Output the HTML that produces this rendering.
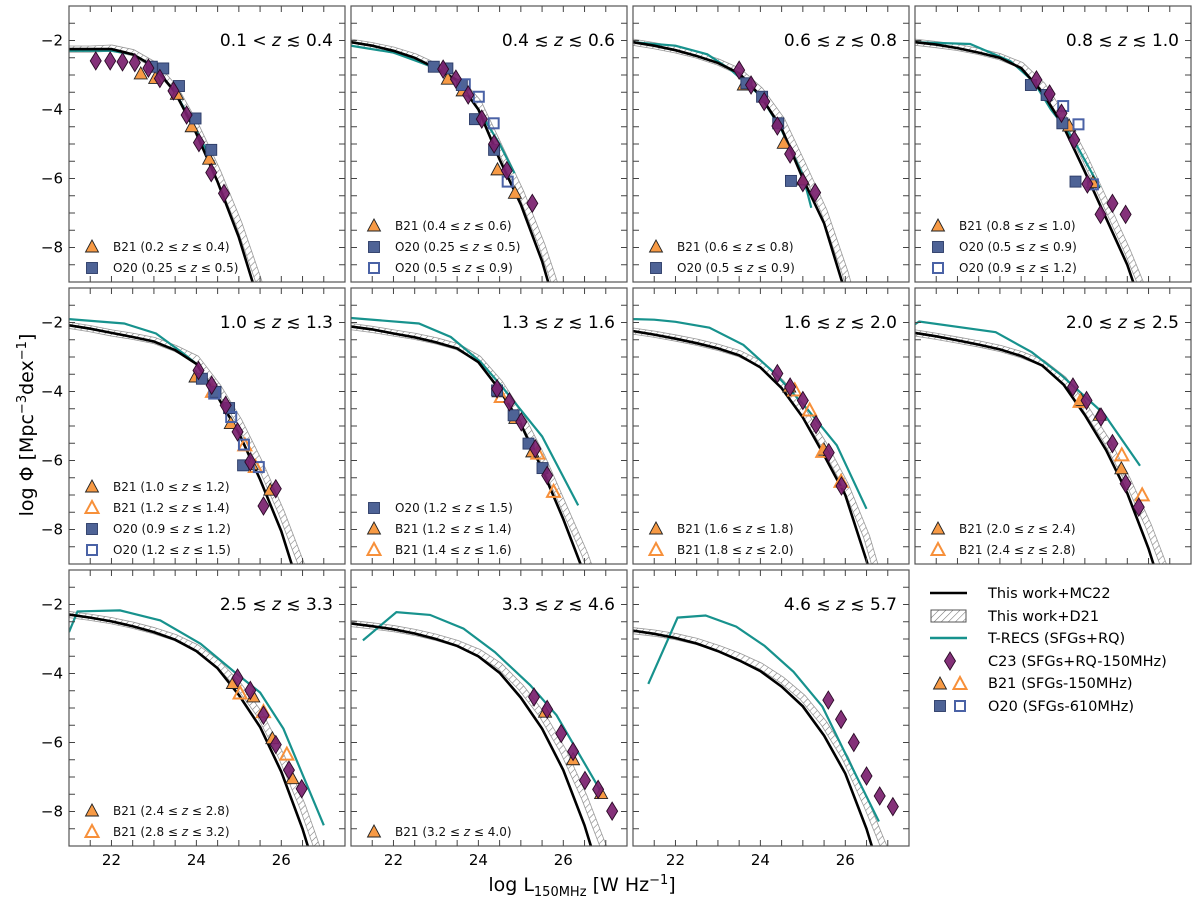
<!DOCTYPE html>
<html><head><meta charset="utf-8">
<style>
html,body{margin:0;padding:0;background:#fff;width:1200px;height:906px;overflow:hidden;}
svg{display:block;font-family:"DejaVu Sans","Liberation Sans",sans-serif;}
</style></head>
<body>
<svg id="chart" width="1200" height="906" viewBox="0 0 1200 906" xmlns="http://www.w3.org/2000/svg">
<defs>
<pattern id="hatch" patternUnits="userSpaceOnUse" width="5" height="5" patternTransform="rotate(45)">
<rect width="5" height="5" fill="#fff"/>
<line x1="0" y1="0" x2="0" y2="5" stroke="#777" stroke-width="1.1"/>
</pattern>
</defs>
<text x="0" y="0" transform="translate(33,425) rotate(-90)" text-anchor="middle" font-size="19" fill="#000">log Φ [Mpc<tspan dy="-7" font-size="13">−3</tspan><tspan dy="7">dex</tspan><tspan dy="-7" font-size="13">−1</tspan><tspan dy="7">]</tspan></text>
<text x="582" y="891" text-anchor="middle" font-size="19" fill="#000">log L<tspan dy="5" font-size="13">150MHz</tspan><tspan dy="-5"> [W Hz</tspan><tspan dy="-7" font-size="13">−1</tspan><tspan dy="7">]</tspan></text>
</svg>
<script>
const xGrid = [21,21.5,22,22.5,23,23.5,24,24.5,25,25.5,26,26.5,27,27.5];
const titles = ["0.1 < z ≲ 0.4","0.4 ≲ z ≲ 0.6","0.6 ≲ z ≲ 0.8","0.8 ≲ z ≲ 1.0","1.0 ≲ z ≲ 1.3","1.3 ≲ z ≲ 1.6","1.6 ≲ z ≲ 2.0","2.0 ≲ z ≲ 2.5","2.5 ≲ z ≲ 3.3","3.3 ≲ z ≲ 4.6","4.6 ≲ z ≲ 5.7"];
const mc22 = [
[-2.25,-2.25,-2.25,-2.4,-2.75,-3.5,-4.7,-6.1,-7.7,-9.7,-12,-14,-16,-18],
[-2.05,-2.15,-2.3,-2.5,-2.8,-3.15,-4.0,-5.45,-6.75,-8.4,-10.5,-13,-15,-17],
[-2.05,-2.15,-2.28,-2.45,-2.65,-2.95,-3.6,-4.55,-6.0,-7.3,-9.3,-11,-13,-15],
[-2.05,-2.12,-2.22,-2.35,-2.5,-2.8,-3.5,-4.5,-5.8,-7.15,-8.5,-10.3,-12,-14],
[-2.08,-2.18,-2.3,-2.42,-2.55,-2.8,-3.2,-4.15,-5.2,-6.55,-8.05,-10,-12,-14],
[-2.12,-2.2,-2.32,-2.43,-2.57,-2.75,-3.15,-3.95,-4.95,-6.25,-7.7,-9.3,-11.2,-13],
[-2.25,-2.35,-2.47,-2.6,-2.75,-2.95,-3.3,-3.9,-4.75,-5.85,-7.0,-8.9,-11,-13],
[-2.3,-2.4,-2.52,-2.64,-2.78,-2.97,-3.25,-3.8,-4.68,-5.7,-6.95,-8.55,-10.5,-12.5],
[-2.29,-2.38,-2.49,-2.63,-2.8,-3.02,-3.35,-3.85,-4.62,-5.55,-6.85,-8.5,-10.5,-12.5],
[-2.55,-2.63,-2.72,-2.84,-3.0,-3.2,-3.5,-3.98,-4.7,-5.6,-6.8,-8.4,-10.4,-12.4],
[-2.76,-2.85,-2.97,-3.13,-3.35,-3.62,-3.93,-4.38,-4.95,-5.8,-6.9,-8.5,-10.5,-12.5]];
const d21 = [
[-2.25,-2.25,-2.22,-2.35,-2.7,-3.4,-4.5,-5.8,-7.3,-9.1,-11,-13,-15,-17],
[-2.05,-2.15,-2.28,-2.47,-2.75,-3.1,-3.8,-5.1,-6.4,-7.95,-9.8,-12,-14,-16],
[-2.05,-2.15,-2.27,-2.42,-2.62,-2.9,-3.45,-4.3,-5.6,-6.95,-8.75,-11,-13,-15],
[-2.05,-2.12,-2.2,-2.32,-2.47,-2.72,-3.3,-4.25,-5.4,-6.75,-8.1,-9.6,-11.5,-13.5],
[-2.08,-2.18,-2.3,-2.4,-2.52,-2.75,-3.05,-3.85,-4.85,-6.1,-7.5,-9.1,-11,-13],
[-2.12,-2.2,-2.3,-2.4,-2.53,-2.7,-3.05,-3.75,-4.7,-5.9,-7.3,-8.7,-10.4,-12.4],
[-2.25,-2.34,-2.45,-2.57,-2.72,-2.9,-3.2,-3.75,-4.55,-5.55,-6.7,-8.2,-10.3,-12.3],
[-2.3,-2.4,-2.51,-2.62,-2.75,-2.93,-3.17,-3.65,-4.45,-5.4,-6.55,-7.9,-9.5,-11.5],
[-2.29,-2.37,-2.47,-2.6,-2.76,-2.96,-3.25,-3.7,-4.35,-5.2,-6.4,-7.85,-9.6,-11.6],
[-2.55,-2.62,-2.7,-2.81,-2.95,-3.13,-3.38,-3.78,-4.4,-5.2,-6.25,-7.6,-9.2,-11.2],
[-2.76,-2.83,-2.93,-3.07,-3.27,-3.5,-3.78,-4.18,-4.7,-5.45,-6.45,-7.8,-9.3,-11.3]];
const trecsX = [
[21,22,22.5,23,23.5,24,24.4],
[21,22,23,23.5,24,24.5,24.85],
[21,22,22.75,23.3,24,24.5,25,25.2],
[21,22.3,23.25,23.8,24.2,24.7,25.35],
[21,22.3,23.05,23.7,24.0],
[21,22.6,23.35,24.05,24.55,25.5,26.35],
[21,21.5,22,22.8,23.6,24.35,25.1,25.8,26.5],
[21,21.1,22.9,23.75,24.45,25.45,26.3],
[21,21.2,22.2,23.15,24.1,24.9,25.5,26.05,27.0],
[21.28,22.07,22.86,23.65,24.39,25.22,25.84,26.89],
[21.36,22.05,22.71,23.43,24.1,24.78,25.46,26.23,26.79]];
const trecsY = [
[-2.3,-2.3,-2.4,-2.75,-3.5,-4.6,-5.6],
[-2.15,-2.35,-2.8,-3.15,-4.0,-5.0,-5.85],
[-2.05,-2.15,-2.4,-2.85,-3.6,-4.6,-5.9,-6.85],
[-2.05,-2.1,-2.6,-3.2,-4.0,-4.8,-6.25],
[-1.9,-2.03,-2.32,-2.9,-3.2],
[-1.87,-2.03,-2.42,-3.14,-3.85,-5.3,-7.3],
[-1.9,-1.92,-1.98,-2.15,-2.65,-3.48,-4.5,-5.56,-7.4],
[-2.05,-1.97,-2.28,-2.86,-3.53,-4.65,-6.15],
[-2.8,-2.2,-2.17,-2.46,-3.14,-3.96,-4.55,-5.6,-8.4],
[-3.04,-2.22,-2.3,-2.7,-3.38,-4.34,-5.21,-7.43],
[-4.3,-2.38,-2.32,-2.64,-3.2,-3.95,-4.96,-6.9,-8.29]];
const c23X = [
[21.63,21.97,22.26,22.55,22.87,23.14,23.46,23.77,24.06,24.35,24.65],
[23.17,23.47,23.76,24.08,24.37,24.67,25.27],
[23.5,23.78,24.09,24.4,24.7,25.0,25.29],
[23.86,24.17,24.45,24.75,25.06,25.37,25.65,25.96],
[24.05,24.36,24.69,24.97,25.27,25.87,25.58],
[24.44,24.73,25.01,25.34,25.62],
[24.4,24.7,25.0,25.31,25.61,25.91],
[24.72,25.04,25.38,25.65,25.96,26.27],
[24.97,25.27,25.58,25.87,26.18,26.48],
[25.31,25.62,25.95,26.23,26.51,26.82,27.15],
[25.6,25.9,26.2,26.5,26.81,27.12]];
const c23Y = [
[-2.59,-2.59,-2.62,-2.64,-2.8,-3.1,-3.46,-4.16,-4.96,-5.83,-6.43],
[-2.83,-3.12,-3.58,-4.28,-5.0,-5.77,-6.72],
[-2.86,-3.29,-3.77,-4.48,-5.29,-6.12,-6.41],
[-3.14,-3.55,-4.11,-4.88,-6.16,-7.04,-6.72,-7.04],
[-3.39,-3.82,-4.4,-5.17,-6.04,-6.82,-7.32],
[-3.92,-4.3,-4.88,-5.66,-6.43],
[-3.48,-3.87,-4.26,-4.96,-5.77,-6.74],
[-3.87,-4.26,-4.74,-5.51,-6.67,-7.35],
[-4.13,-4.49,-5.21,-6.06,-6.8,-7.34],
[-4.68,-5.04,-5.74,-6.26,-7.1,-7.36,-7.99],
[-4.77,-5.33,-6.0,-6.97,-7.55,-7.86]];
const b21X = [[22.69,23.03,23.54,23.89,24.3],[23.28,23.63,24.45,24.86],[23.61,24.55,25.0],[24.63,25.19],[23.98,24.81,25.3,25.74],[24.48,24.87,25.27],[24.68,25.5],[24.91,25.35,25.86],[24.86,25.34,25.79,26.26],[25.57,26.23,26.89],[]];
const b21Y = [[-2.97,-3.1,-3.56,-4.5,-5.44],[-3.12,-3.46,-5.75,-6.43],[-3.29,-4.98,-6.04],[-4.48,-6.12],[-3.58,-4.93,-6.12,-6.86],[-4.01,-4.78,-5.75],[-3.87,-5.7],[-4.26,-4.69,-6.24],[-4.29,-4.68,-5.89,-7.05],[-5.12,-6.5,-7.48],[]];
const b21oX = [[],[],[],[],[24.38,25.14,25.39],[24.54,25.4,25.77],[24.81,25.16,25.47,25.9],[24.89,25.87,26.35],[25.03,25.58,26.13],[],[]];
const b21oY = [[],[],[],[],[-4.01,-5.56,-6.19],[-4.16,-5.8,-6.91],[-3.97,-4.55,-5.75,-6.62],[-4.3,-5.85,-7.01],[-4.58,-5.12,-6.35],[],[]];
const o20X = [[22.95,23.22,23.59,23.98,24.35],[22.95,23.27,23.61,23.92,24.37],[23.67,24.04,24.42,24.72],[23.73,24.1,24.47,24.78],[24.13,24.45,24.77,25.1],[24.44,24.83,25.18,25.51],[],[],[],[],[]];
const o20Y = [[-2.76,-2.81,-3.32,-4.26,-5.17],[-2.76,-2.81,-3.29,-4.28,-5.17],[-3.24,-3.63,-4.4,-6.07],[-3.29,-3.58,-4.4,-6.09],[-3.63,-4.01,-4.48,-6.14],[-3.97,-4.69,-5.51,-6.22],[],[],[],[],[]];
const o20oX = [[],[23.68,24.01,24.36,24.69],[],[24.49,24.85,25.19],[24.42,24.82,25.12,25.47],[],[],[],[],[],[]];
const o20oY = [[],[-3.27,-3.63,-4.4,-6.09],[],[-3.9,-4.43,-6.17],[-4.06,-4.74,-5.54,-6.19],[],[],[],[],[],[]];
const legTypes = [["tri","sq"],["tri","sq","osq"],["tri","sq"],["tri","sq","osq"],["tri","otri","sq","osq"],["sq","tri","otri"],["tri","otri"],["tri","otri"],["tri","otri"],["tri"],[]];
const legTexts = [
["B21 (0.2 ≤ z ≤ 0.4)","O20 (0.25 ≤ z ≤ 0.5)"],
["B21 (0.4 ≤ z ≤ 0.6)","O20 (0.25 ≤ z ≤ 0.5)","O20 (0.5 ≤ z ≤ 0.9)"],
["B21 (0.6 ≤ z ≤ 0.8)","O20 (0.5 ≤ z ≤ 0.9)"],
["B21 (0.8 ≤ z ≤ 1.0)","O20 (0.5 ≤ z ≤ 0.9)","O20 (0.9 ≤ z ≤ 1.2)"],
["B21 (1.0 ≤ z ≤ 1.2)","B21 (1.2 ≤ z ≤ 1.4)","O20 (0.9 ≤ z ≤ 1.2)","O20 (1.2 ≤ z ≤ 1.5)"],
["O20 (1.2 ≤ z ≤ 1.5)","B21 (1.2 ≤ z ≤ 1.4)","B21 (1.4 ≤ z ≤ 1.6)"],
["B21 (1.6 ≤ z ≤ 1.8)","B21 (1.8 ≤ z ≤ 2.0)"],
["B21 (2.0 ≤ z ≤ 2.4)","B21 (2.4 ≤ z ≤ 2.8)"],
["B21 (2.4 ≤ z ≤ 2.8)","B21 (2.8 ≤ z ≤ 3.2)"],
["B21 (3.2 ≤ z ≤ 4.0)"],[]];
const yTicks = [-2,-4,-6,-8];
const xTicks = [22,24,26];

const NS = "http://www.w3.org/2000/svg";
const svg = document.getElementById('chart');
const lefts = [69,351,633,915], tops = [6,288,570], W = 276, H = 276;
const XMIN = 21, XMAX = 27.5, YMIN = -9, YMAX = -1;
const YCUT = -9.3;
function el(tag, attrs, parent){const e=document.createElementNS(NS,tag);for(const k in attrs)e.setAttribute(k,attrs[k]);parent.appendChild(e);return e;}
function sx(L,v){return L + (v-XMIN)/(XMAX-XMIN)*W;}
function sy(T,v){return T + (YMAX-v)/(YMAX-YMIN)*H;}
function pathFrom(L,T,xs,ys){
  let d='';
  for(let i=0;i<xs.length;i++){
    let x=xs[i], y=ys[i];
    if(y<YCUT){
      if(i>0){const f=(ys[i-1]-YCUT)/(ys[i-1]-y); x=xs[i-1]+f*(x-xs[i-1]); y=YCUT;}
      else y=YCUT;
      d+=(i?'L':'M')+sx(L,x).toFixed(1)+','+sy(T,y).toFixed(1);
      break;
    }
    d+=(i?'L':'M')+sx(L,x).toFixed(1)+','+sy(T,y).toFixed(1);
  }
  return d;
}
function marker(type,cx,cy,g){
  let m;
  if(type==='dia'){m=el('polygon',{points:`${cx},${cy-9} ${cx+5.5},${cy} ${cx},${cy+9} ${cx-5.5},${cy}`,fill:'#7a1f6e','fill-opacity':0.92,stroke:'#2a0a26','stroke-width':0.9},g);}
  else if(type==='tri'){m=el('polygon',{points:`${cx},${cy-7} ${cx+6.5},${cy+5} ${cx-6.5},${cy+5}`,fill:'#f79a45',stroke:'#222','stroke-width':0.9},g);}
  else if(type==='otri'){m=el('polygon',{points:`${cx},${cy-7} ${cx+6.5},${cy+5} ${cx-6.5},${cy+5}`,fill:'none',stroke:'#f7903a','stroke-width':2},g);}
  else if(type==='sq'){m=el('rect',{x:cx-5.5,y:cy-5.5,width:11,height:11,fill:'#4e6396',stroke:'#2c3b66','stroke-width':0.9},g);}
  else {m=el('rect',{x:cx-5,y:cy-5,width:10,height:10,fill:'none',stroke:'#4a62a6','stroke-width':2},g);}
  return m;
}
const mnames={dia:'c23-point',tri:'b21-point',otri:'b21-open-point',sq:'o20-point',osq:'o20-open-point'};

for(let p=0;p<11;p++){
  const L=lefts[p%4], T=tops[Math.floor(p/4)];
  const g=el('g',{},svg);
  
  
  const cp=el('clipPath',{id:'cp'+p},g);
  el('rect',{x:L,y:T,width:W,height:H},cp);
  const plot=el('g',{'clip-path':'url(#cp'+p+')'},g);
  const dB=pathFrom(L,T,xGrid,d21[p]);
  const b1=el('path',{d:dB,fill:'none',stroke:'#999','stroke-width':7,'stroke-linejoin':'round'},plot);
  
  
  const b2=el('path',{d:dB,fill:'none',stroke:'url(#hatch)','stroke-width':5.4,'stroke-linejoin':'round'},plot);
  
  
  const t=el('path',{d:pathFrom(L,T,trecsX[p],trecsY[p]),fill:'none',stroke:'#17928d','stroke-width':2.2},plot);
  
  
  const k=el('path',{d:pathFrom(L,T,xGrid,mc22[p]),fill:'none',stroke:'#000','stroke-width':2.6},plot);
  
  
  const sets=[['tri',b21X[p],b21Y[p]],['otri',b21oX[p],b21oY[p]],['sq',o20X[p],o20Y[p]],['osq',o20oX[p],o20oY[p]],['dia',c23X[p],c23Y[p]]];
  for(const s of sets){for(let i=0;i<s[1].length;i++){
    const m=marker(s[0],sx(L,s[1][i]),sy(T,s[2][i]),plot);
    
    
  }}
  const fr=el('rect',{x:L,y:T,width:W,height:H,fill:'none',stroke:'#555','stroke-width':1.2},g);
  
  
  let td='';
  for(let v=21.5;v<27.5;v+=0.5){const x=sx(L,v);td+=`M${x},${T+H}v-6M${x},${T}v6`;}
  for(let v=-8.5;v<-1;v+=0.5){const y=sy(T,v);td+=`M${L},${y}h6M${L+W},${y}h-6`;}
  const tk=el('path',{d:td,stroke:'#444','stroke-width':1,fill:'none'},g);
  
  
  if(p%4===0){for(const v of yTicks){const tl=el('text',{x:L-6,y:sy(T,v)+5,'text-anchor':'end','font-size':15,fill:'#000'},g);tl.textContent='−'+Math.abs(v);
    
    }}
  if(p>=8){for(const v of xTicks){const xl=el('text',{x:sx(L,v),y:T+H+19,'text-anchor':'middle','font-size':15,fill:'#000'},g);xl.textContent=v;
    
    }}
  const tt=el('text',{x:L+W-12,y:T+40,'text-anchor':'end','font-size':17,fill:'#000'},g);
  const parts=titles[p].split('z');
  tt.appendChild(document.createTextNode(parts[0]));
  const zi=el('tspan',{'font-style':'italic'},tt);zi.textContent='z';
  tt.appendChild(document.createTextNode(parts[1]));
  
  
  const n=legTypes[p].length;
  for(let i=0;i<n;i++){
    const cy=T+H-14-(n-1-i)*21;
    const lm=marker(legTypes[p][i],L+23,cy,g);
    
    
    const lt=el('text',{x:L+44,y:cy+4,'font-size':12,fill:'#111'},g);
    const pp=legTexts[p][i].split('z');
    lt.appendChild(document.createTextNode(pp[0]));
    const zz=el('tspan',{'font-style':'italic'},lt);zz.textContent='z';
    lt.appendChild(document.createTextNode(pp[1]));
    
    
  }
}
const gl=el('g',{},svg);


const gTexts=["This work+MC22","This work+D21","T-RECS (SFGs+RQ)","C23 (SFGs+RQ-150MHz)","B21 (SFGs-150MHz)","O20 (SFGs-610MHz)"];
const gY=[593,616,638,661,683,706];
for(let i=0;i<6;i++){
  const y=gY[i];
  if(i===0){const a=el('line',{x1:930,x2:967,y1:y,y2:y,stroke:'#000','stroke-width':2.6},gl);}
  if(i===1){const a=el('rect',{x:931,y:y-6,width:35,height:12,fill:'url(#hatch)',stroke:'#555','stroke-width':1},gl);}
  if(i===2){const a=el('line',{x1:930,x2:967,y1:y,y2:y,stroke:'#17928d','stroke-width':2.4},gl);}
  if(i===3){const a=marker('dia',950,y,gl);}
  if(i===4){const a=marker('tri',940,y+1,gl);
    const b=marker('otri',960,y+1,gl);}
  if(i===5){const a=marker('sq',940,y,gl);
    const b=marker('osq',960,y,gl);}
  const tx=el('text',{x:988,y:y+5,'font-size':14.5,fill:'#000'},gl);
  tx.textContent=gTexts[i];
  
  
}
</script>
</body></html>
